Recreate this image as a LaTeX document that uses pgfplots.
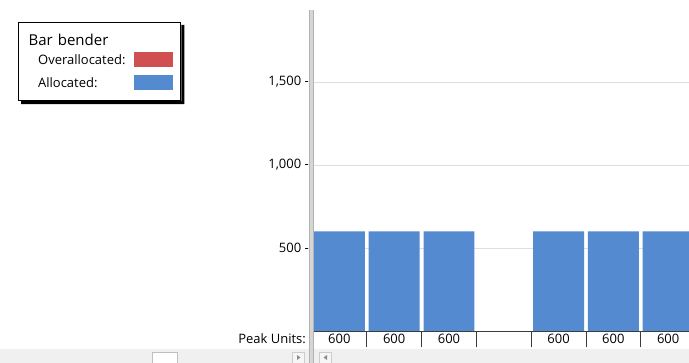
\documentclass[border=0pt]{standalone}
\usepackage{fontspec}
\setmainfont{Open Sans}
\usepackage{pgfplots}
\pgfplotsset{compat=1.18}
\usetikzlibrary{calc}

\definecolor{allocblue}{RGB}{84,139,208}
\definecolor{overred}{RGB}{208,80,82}
\definecolor{gridgray}{RGB}{222,222,222}
\definecolor{panegray}{RGB}{240,240,240}
\definecolor{splitgray}{RGB}{214,214,214}
\definecolor{linedark}{RGB}{60,60,60}

% legend swatch: a 39 x 15.5 block, plus an invisible box fixing the row height
\pgfplotsset{
  swatch/.style={legend image code/.code={
    \fill[#1, draw=none] (0pt,-2.55pt) rectangle (39pt,12.95pt);
    \path[draw=none, fill=none] (0pt,-6.15pt) rectangle (39pt,16.55pt);}},
}

\begin{document}
\begin{tikzpicture}
% page: 689 x 363, origin at the top-left corner
\path[use as bounding box, fill=white] (0pt,0pt) rectangle (689pt,-363pt);

% scroll band along the bottom
\fill[panegray] (0pt,-349.5pt) rectangle (689pt,-363pt);
\filldraw[fill=white, draw=black!25, line width=0.6pt] (152pt,-352pt) rectangle (177pt,-363.5pt);
\filldraw[fill=panegray!60!white, draw=black!20, line width=0.5pt] (292.5pt,-352pt) rectangle (304.5pt,-363.5pt);
\fill[black!45] (297pt,-355pt) -- (300.5pt,-357.5pt) -- (297pt,-360pt) -- cycle;
\filldraw[fill=panegray!60!white, draw=black!20, line width=0.5pt] (319.5pt,-352pt) rectangle (331.5pt,-363.5pt);
\fill[black!45] (327pt,-355pt) -- (323.5pt,-357.5pt) -- (327pt,-360pt) -- cycle;

\begin{axis}[
  at={(312pt,-331pt)}, anchor=south west,
  scale only axis, width=377pt, height=321pt,
  xmin=-0.5, xmax=6.38, ymin=0, ymax=1933.7,
  axis x line*=bottom, axis y line*=left,
  x axis line style={draw=linedark, line width=0.9pt, -},
  y axis line style={draw=none, -},
  font=\fontsize{13pt}{15pt}\selectfont,
  /pgf/number format/assume math mode=true,
  /pgf/number format/1000 sep={,},
  ytick={500,1000,1500},
  yticklabel={\pgfmathprintnumber{\tick}~-},
  yticklabel style={anchor=east, inner sep=0pt, xshift=-3pt},
  ymajorgrids, grid style={gridgray, line width=0.8pt},
  xtick={0,1,2,3,4,5,6},
  xticklabels={600,600,600,,600,600,600},
  xticklabel style={anchor=base, inner sep=0pt, yshift=-13pt},
  minor xtick={0.5,1.5,2.5,3.5,4.5,5.5},
  major tick length=0pt, minor tick length=16pt, tick align=outside,
  minor tick style={linedark, line width=0.9pt},
  legend plot pos=right,
  legend style={
    name=lgd,
    at={(rel axis cs:-0.77984,0.96262)}, anchor=north west,
    draw=black, line width=1.3pt, fill=white,
    inner xsep=8pt, inner ysep=6.85pt,
    row sep=0pt, column sep=6pt,
    cells={anchor=base west, inner sep=0pt, text width=97pt},
    font=\fontsize{13pt}{15pt}\selectfont,
  },
]
% legend heading
\addlegendimage{empty legend}
\addlegendentry[font=\fontsize{15pt}{17pt}\selectfont, text height=13.6pt, text depth=1.25pt]{Bar bender}
% no overallocation in this range, only its legend swatch
\addlegendimage{swatch=overred}
\addlegendentry{\hspace*{9.5pt}Overallocated:}
% allocated units per period
\addplot[ybar, bar width=0.93, fill=allocblue, draw=none, swatch=allocblue]
  coordinates {(0,600) (1,600) (2,600) (4,600) (5,600) (6,600)};
\addlegendentry{\hspace*{9.5pt}Allocated:}
\end{axis}

% legend drop shadow, right and bottom sides
\fill[black] ($(lgd.north east)+(0pt,-3pt)$) -- ($(lgd.north east)+(3pt,-3pt)$)
  -- ($(lgd.south east)+(3pt,-3pt)$) -- ($(lgd.south west)+(3pt,-3pt)$)
  -- ($(lgd.south west)+(3pt,0pt)$) -- (lgd.south east) -- cycle;

% pane splitter
\fill[splitgray] (309.5pt,-10pt) rectangle (313.5pt,-363pt);
\draw[black!30, line width=0.5pt] (309.5pt,-10pt) -- (309.5pt,-363pt)
  (313.5pt,-10pt) -- (313.5pt,-363pt);

\node[anchor=base east, inner sep=0pt, font=\fontsize{13pt}{15pt}\selectfont]
  at (306pt,-344pt) {Peak Units:};
\end{tikzpicture}
\end{document}
